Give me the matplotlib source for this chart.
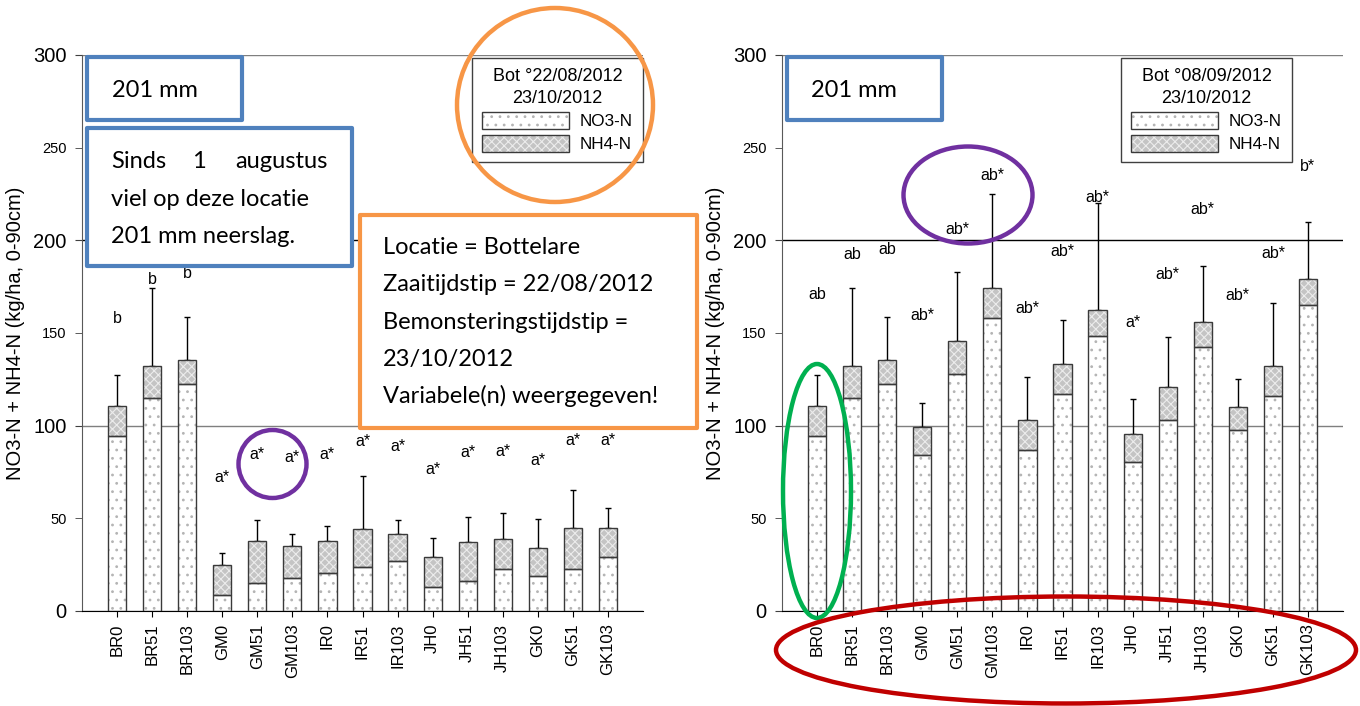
import numpy as np
import matplotlib
matplotlib.use('Agg')
import matplotlib.pyplot as plt
from matplotlib.patches import Rectangle, Ellipse, Patch
from matplotlib.legend_handler import HandlerTuple

plt.rcParams['font.family'] = ['Liberation Sans', 'DejaVu Sans']
plt.rcParams['hatch.linewidth'] = 0.8

labels = ['BR0', 'BR51', 'BR103', 'GM0', 'GM51', 'GM103', 'IR0', 'IR51',
          'IR103', 'JH0', 'JH51', 'JH103', 'GK0', 'GK51', 'GK103']

# sowing 22/08/2012, sampled 23/10/2012
no3_aug = [94.4, 115.0, 122.5, 8.5, 15.0, 17.7, 20.7, 24.0, 26.8, 12.8, 16.0, 22.8, 19.1, 22.5, 29.1]
total_aug = [110.5, 132.0, 135.3, 24.9, 37.7, 35.1, 37.7, 44.1, 41.4, 28.9, 37.4, 38.9, 34.2, 44.6, 44.6]
top_aug = [127.2, 174.1, 158.5, 31.2, 49.2, 41.8, 45.6, 72.6, 49.2, 39.2, 50.9, 52.9, 49.5, 65.5, 55.8]
letters_aug = ['b', 'b', 'b'] + ['a*'] * 12
letter_y_aug = [157.6, 179.0, 182.0, 72.3, 84.7, 82.6, 84.7, 91.4, 88.7, 76.1, 85.3, 86.0, 81.1, 91.9, 91.9]

# sowing 08/09/2012, sampled 23/10/2012
no3_sep = [94.4, 115.0, 122.5, 84.3, 127.9, 158.3, 86.8, 117.1, 148.4, 80.5, 102.9, 142.5, 97.7, 116.2, 164.9]
total_sep = [110.5, 132.0, 135.3, 99.3, 145.9, 174.1, 102.9, 133.3, 162.4, 95.3, 120.7, 156.1, 109.9, 132.3, 179.0]
top_sep = [127.2, 174.1, 158.5, 112.3, 183.1, 225.2, 126.5, 156.8, 220.0, 114.2, 147.9, 186.0, 125.2, 166.4, 209.7]
letters_sep = ['ab', 'ab', 'ab', 'ab*', 'ab*', 'ab*', 'ab*', 'ab*', 'ab*', 'a*', 'ab*', 'ab*', 'ab*', 'ab*', 'b*']
letter_y_sep = [170.9, 192.1, 195.3, 159.7, 206.1, 234.9, 163.3, 193.9, 223.0, 155.6, 181.3, 216.7, 170.5, 193.0, 239.7]

W, H = 1360, 706
NO3_STYLE = dict(facecolor='white', edgecolor='#b4b4b4', hatch='..', lw=0)
NH4_STYLE = dict(facecolor='#c4c4c4', edgecolor='#ececec', hatch='xxxx', lw=0)
OUTLINE = dict(fill=False, edgecolor='#3a3a3a', lw=1)


def draw_panel(fig, left_px, no3, total, top, letters, letter_y, title, legend_xy):
    ax = fig.add_axes([left_px / W, 95 / H, 561 / W, 556 / H])
    x = np.arange(len(labels))
    no3 = np.array(no3)
    nh4 = np.array(total) - no3
    bw = 0.52
    ax.bar(x, no3, bw, zorder=2, **NO3_STYLE)
    ax.bar(x, nh4, bw, bottom=no3, zorder=2, **NH4_STYLE)
    ax.bar(x, no3, bw, zorder=3, **OUTLINE)
    ax.bar(x, nh4, bw, bottom=no3, zorder=3, **OUTLINE)
    err = np.array(top) - np.array(total)
    ax.errorbar(x, total, yerr=[np.zeros_like(err), err], fmt='none', ecolor='black',
                elinewidth=1, capsize=2.5, capthick=1, zorder=1.5)
    for xi, yi, s in zip(x, letter_y, letters):
        ax.text(xi, yi, s, ha='center', va='center', fontsize=11.5)

    ax.set_xlim(-1, 15)
    ax.set_ylim(0, 300)
    ax.set_yticks([0, 100, 200, 300])
    ax.set_yticklabels(['0', '100', '200', '300'], fontsize=14.5)
    ax.set_yticks([50, 150, 250], minor=True)
    ax.set_yticklabels(['50', '150', '250'], minor=True, fontsize=10.5)
    ax.tick_params(axis='y', which='both', length=5, pad=6, color='#404040')
    ax.set_xticks(x)
    ax.set_xticklabels(labels, rotation=90, fontsize=12)
    ax.tick_params(axis='x', length=4, pad=5)
    ax.spines[['top', 'right']].set_visible(False)
    ax.spines['left'].set_color('#595959')
    ax.spines['bottom'].set_color('black')
    ax.grid(axis='y', which='major', color='#7f7f7f', lw=1)
    ax.get_ygridlines()[2].set_color('black')
    ax.set_axisbelow(True)
    ax.set_ylabel('NO3-N + NH4-N (kg/ha, 0-90cm)', fontsize=14.5, labelpad=6)

    h_no3 = (Patch(**NO3_STYLE), Patch(**OUTLINE))
    h_nh4 = (Patch(**NH4_STYLE), Patch(**OUTLINE))
    leg = ax.legend([h_no3, h_nh4], ['NO3-N', 'NH4-N'],
                    handler_map={tuple: HandlerTuple(ndivide=1, pad=0)},
                    title=title, title_fontsize=13, fontsize=12.3,
                    loc='upper left', bbox_to_anchor=(legend_xy[0] / W, 1 - legend_xy[1] / H),
                    bbox_transform=fig.transFigure, borderaxespad=0, fancybox=False,
                    edgecolor='#404040', framealpha=1, handlelength=5.1, handleheight=1.2,
                    handletextpad=0.6, labelspacing=0.3, borderpad=0.6)
    leg.get_frame().set_linewidth(1)
    leg.get_title().set_multialignment('center')
    leg.get_title().set_linespacing(1.35)
    return ax


fig = plt.figure(figsize=(13.6, 7.06), dpi=100)

draw_panel(fig, 82, no3_aug, total_aug, top_aug, letters_aug, letter_y_aug,
           'Bot \u00b022/08/2012\n23/10/2012', (472, 58))
draw_panel(fig, 782, no3_sep, total_sep, top_sep, letters_sep, letter_y_sep,
           'Bot \u00b008/09/2012\n23/10/2012', (1121, 58))

# callouts drawn on top, in pixel coordinates
over = fig.add_axes([0, 0, 1, 1], zorder=10)
over.set_xlim(0, W)
over.set_ylim(H, 0)
over.axis('off')
over.patch.set_alpha(0)

blue = '#4F81BD'
orange = '#F79646'
purple = '#7030A0'
green = '#00B050'
red = '#C00000'
note = dict(fontsize=17, family=['Lato', 'DejaVu Sans'], va='baseline', color='black')

for x0 in (87, 787):
    over.add_patch(Rectangle((x0, 57), 155, 63, facecolor='white', edgecolor=blue,
                             lw=3, joinstyle='round'))
over.text(112, 97, '201 mm', **note)
over.text(811, 97, '201 mm', **note)

over.add_patch(Rectangle((87, 128), 265, 138, facecolor='white', edgecolor=blue,
                         lw=3, joinstyle='round'))
over.text(111, 168, 'Sinds', ha='left', **note)
over.text(199, 168, '1', ha='center', **note)
over.text(328, 168, 'augustus', ha='right', **note)
over.text(111, 206, 'viel op deze locatie', ha='left', **note)
over.text(111, 243, '201 mm neerslag.', ha='left', **note)

over.add_patch(Rectangle((360, 215), 337, 213, facecolor='white', edgecolor=orange,
                         lw=3, joinstyle='round'))
info = ['Locatie = Bottelare', 'Zaaitijdstip = 22/08/2012', 'Bemonsteringstijdstip =',
        '23/10/2012', 'Variabele(n) weergegeven!']
for i, line in enumerate(info):
    over.text(383, 254 + i * 37.3, line, ha='left', **note)

over.add_patch(Ellipse((555, 105), 196, 194, fill=False, edgecolor=orange, lw=3.2))
over.add_patch(Ellipse((272.5, 464), 68, 68, fill=False, edgecolor=purple, lw=3.2))
over.add_patch(Ellipse((968, 195), 129, 97, fill=False, edgecolor=purple, lw=3.2))
over.add_patch(Ellipse((817, 491), 68, 254, fill=False, edgecolor=green, lw=3.2))
over.add_patch(Ellipse((1066, 650), 580, 107, fill=False, edgecolor=red, lw=3.2))

fig.savefig('out.png', dpi=100)
